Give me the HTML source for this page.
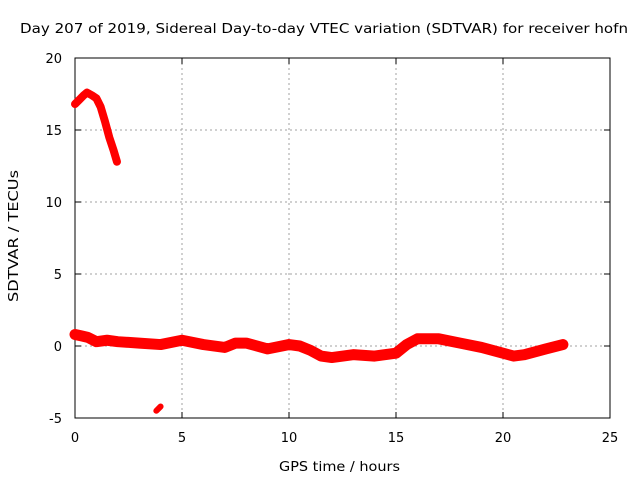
<!DOCTYPE html>
<html><head><meta charset="utf-8"><style>
body{margin:0;background:#fff}
svg text{font-family:"DejaVu Sans","Liberation Sans",sans-serif;font-size:13px;fill:#000}
</style></head><body>
<svg id="c" width="640" height="480"></svg>
<script>
const xTicks=[0,5,10,15,20,25];
const yTicks=[-5,0,5,10,15,20];
const upperHours=[0,0.2,0.4,0.56,0.8,1.0,1.2,1.4,1.6,1.8,1.96];
const upperValues=[16.8,17.1,17.4,17.6,17.4,17.2,16.6,15.6,14.5,13.6,12.8];
const lowHours=[3.8,4.0];
const lowValues=[-4.5,-4.2];
const mainHours=[0,0.3,0.6,1,1.5,2,3,4,5,6,7,7.5,8,9,10,10.5,11,11.5,12,13,14,15,15.5,16,17,18,19,20,20.5,21,22,22.8];
const mainValues=[0.8,0.7,0.6,0.3,0.4,0.3,0.2,0.1,0.4,0.1,-0.1,0.2,0.2,-0.2,0.1,0,-0.3,-0.7,-0.8,-0.6,-0.7,-0.5,0.1,0.5,0.5,0.2,-0.1,-0.5,-0.7,-0.6,-0.2,0.1];
const svg=document.getElementById('c');const NS='http://www.w3.org/2000/svg';
const L=75,R=610,T=58,B=418;
const X=h=>L+(h-0)/(25-0)*(R-L);
const Y=v=>B-(v+5)/25*(B-T);
function mk(t,a,p){const e=document.createElementNS(NS,t);for(const k in a)e.setAttribute(k,a[k]);(p||svg).appendChild(e);return e;}
xTicks.forEach(t=>{
 if(t>0&&t<25){const g=mk('line',{x1:X(t),x2:X(t),y1:T,y2:B,stroke:'#a0a0a0','stroke-dasharray':'2,3'});
 
 }
 mk('line',{x1:X(t),x2:X(t),y1:B,y2:B-6,stroke:'#000'});mk('line',{x1:X(t),x2:X(t),y1:T,y2:T+6,stroke:'#000'});
 const tx=mk('text',{x:X(t),y:B+24,'text-anchor':'middle'});tx.textContent=t;
 
 
});
yTicks.forEach(t=>{
 if(t>-5&&t<20){const g=mk('line',{x1:L,x2:R,y1:Y(t),y2:Y(t),stroke:'#a0a0a0','stroke-dasharray':'2,3'});
 
 }
 mk('line',{x1:L,x2:L+6,y1:Y(t),y2:Y(t),stroke:'#000'});mk('line',{x1:R,x2:R-6,y1:Y(t),y2:Y(t),stroke:'#000'});
 const tx=mk('text',{x:L-13,y:Y(t)+5,'text-anchor':'end'});tx.textContent=t;
 
 
});
const fr=mk('rect',{x:L,y:T,width:R-L,height:B-T,fill:'none',stroke:'#000'});


function series(hs,vs,w,name){
 const p=mk('polyline',{points:hs.map((h,i)=>X(h)+','+Y(vs[i])).join(' '),fill:'none',stroke:'#f00','stroke-width':w,'stroke-linejoin':'round','stroke-linecap':'round'});
 
 
}
series(mainHours,mainValues,11,'main-series');
series(upperHours,upperValues,8,'upper-series');
series(lowHours,lowValues,6,'low-series');
const tt=mk('text',{x:20,y:33,textLength:608,lengthAdjust:'spacingAndGlyphs'});tt.textContent='Day 207 of 2019, Sidereal Day-to-day VTEC variation (SDTVAR) for receiver hofn';


const xl=mk('text',{x:279,y:471,textLength:121,lengthAdjust:'spacingAndGlyphs'});xl.textContent='GPS time / hours';


const yl=mk('text',{x:0,y:0,textLength:132,lengthAdjust:'spacingAndGlyphs',transform:'translate(18,302) rotate(-90)'});yl.textContent='SDTVAR / TECUs';


</script>
</body></html>
